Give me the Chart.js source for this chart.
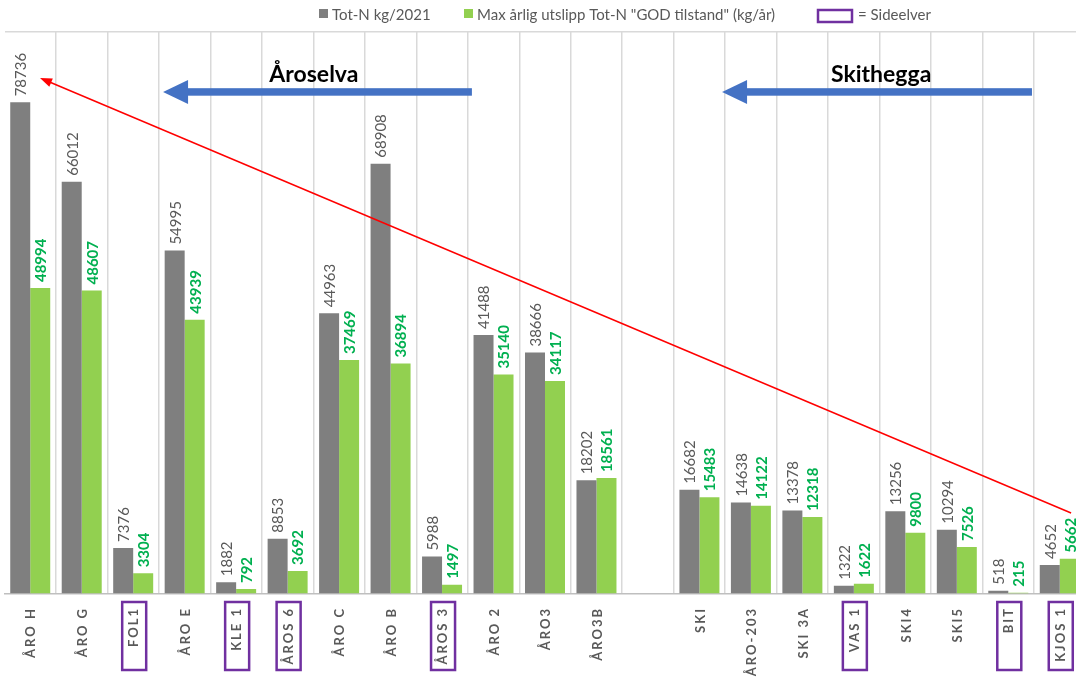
<!DOCTYPE html>
<html><head><meta charset="utf-8">
<script src="https://cdn.jsdelivr.net/npm/chart.js@4/dist/chart.umd.min.js"></script>
<style>
html,body{margin:0;padding:0;background:#fff;overflow:hidden;width:1076px;height:681px;}
#wrap{position:absolute;left:0;top:0;width:1086px;height:681px;}
</style></head><body>
<div id="wrap"><canvas id="c" width="1086" height="681"></canvas></div>
<script>
// ---- data ----
const categories = ['ÅRO H','ÅRO G','FOL1','ÅRO E','KLE 1','ÅROS 6','ÅRO C','ÅRO B','ÅROS 3','ÅRO 2','ÅRO3','ÅRO3B','','SKI','ÅRO-203','SKI 3A','VAS 1','SKI4','SKI5','BIT','KJOS 1'];
const totN2021 = [78736,66012,7376,54995,1882,8853,44963,68908,5988,41488,38666,18202,null,16682,14638,13378,1322,13256,10294,518,4652];
const maxGodTilstand = [48994,48607,3304,43939,792,3692,37469,36894,1497,35140,34117,18561,null,15483,14122,12318,1622,9800,7526,215,5662];
const sideelver = ['FOL1','KLE 1','ÅROS 6','ÅROS 3','VAS 1','BIT','KJOS 1'];
const seriesNames = ['Tot-N kg/2021','Max årlig utslipp Tot-N "GOD tilstand" (kg/år)'];
const sideelverLabel = '= Sideelver';
const riverNames = ['Åroselva','Skithegga'];
const yMax = 90000;

// annotation anchors in (category index, value) units
const riverArrows = [
  {name: riverNames[0], from: 8.58, to: 2.58, text: 5.51},
  {name: riverNames[1], from: 19.46, to: 13.44, text: 16.53}
];
const arrowValue = 80400, riverTextValue = 82000;
const trendLine = {x0: 20.22, y0: 12970, x1: 0.19, y1: 82640};

const GRAY = '#7f7f7f', GREEN = '#92d050', TXT = '#595959', GTXT = '#00b050', PURPLE = '#7030a0', BLUE = '#4472c4';
const FONT = 'Lato, "Open Sans", sans-serif';

const overlay = {
  id: 'overlay',
  afterDraw(chart) {
    const ctx = chart.ctx;
    const xs = chart.scales.x, ys = chart.scales.y;
    const bottom = chart.chartArea.bottom;

    // data labels
    const styles = [{c: TXT, f: '15px ' + FONT}, {c: GTXT, f: 'bold 15px ' + FONT}];
    chart.data.datasets.forEach((ds, di) => {
      const meta = chart.getDatasetMeta(di);
      meta.data.forEach((bar, i) => {
        const v = ds.data[i];
        if (v === null || v === undefined) return;
        ctx.save();
        ctx.translate(bar.x + 1, bar.y - 6);
        ctx.rotate(-Math.PI / 2);
        ctx.font = styles[di].f;
        ctx.fillStyle = styles[di].c;
        ctx.textAlign = 'left';
        ctx.textBaseline = 'middle';
        ctx.fillText(String(v), 0, 0);
        ctx.restore();
      });
    });

    // category labels + side-river boxes
    categories.forEach((lab, i) => {
      const x = xs.getPixelForValue(i);
      if (lab) {
        ctx.save();
        ctx.translate(x + 1, bottom + 13);
        ctx.rotate(-Math.PI / 2);
        ctx.font = 'bold 13px ' + FONT;
        ctx.letterSpacing = '2px';
        ctx.fillStyle = TXT;
        ctx.textAlign = 'right';
        ctx.textBaseline = 'middle';
        ctx.fillText(lab, 0, 0);
        ctx.restore();
      }
      if (sideelver.includes(lab)) {
        ctx.save();
        ctx.strokeStyle = PURPLE;
        ctx.lineWidth = 2.5;
        ctx.strokeRect(x - 11, bottom + 8, 24, 68);
        ctx.restore();
      }
    });

    // river arrows + names
    riverArrows.forEach(a => {
      const xr = xs.getPixelForValue(a.from), xt = xs.getPixelForValue(a.to);
      const y = ys.getPixelForValue(arrowValue);
      ctx.save();
      ctx.fillStyle = BLUE;
      ctx.fillRect(xt + 22, y - 3.75, xr - xt - 22, 7.5);
      ctx.beginPath();
      ctx.moveTo(xt, y);
      ctx.lineTo(xt + 25, y - 12);
      ctx.lineTo(xt + 25, y + 12);
      ctx.closePath();
      ctx.fill();
      ctx.font = 'bold 23px ' + FONT;
      ctx.fillStyle = '#000';
      ctx.textAlign = 'center';
      ctx.textBaseline = 'alphabetic';
      ctx.fillText(a.name, xs.getPixelForValue(a.text), ys.getPixelForValue(riverTextValue));
      ctx.restore();
    });

    // red trend arrow
    {
      const x0 = xs.getPixelForValue(trendLine.x0), y0 = ys.getPixelForValue(trendLine.y0);
      const x1 = xs.getPixelForValue(trendLine.x1), y1 = ys.getPixelForValue(trendLine.y1);
      const ang = Math.atan2(y1 - y0, x1 - x0);
      ctx.save();
      ctx.strokeStyle = '#ff0000';
      ctx.fillStyle = '#ff0000';
      ctx.lineWidth = 1.5;
      ctx.beginPath();
      ctx.moveTo(x0, y0);
      ctx.lineTo(x1 - 9 * Math.cos(ang), y1 - 9 * Math.sin(ang));
      ctx.stroke();
      ctx.translate(x1, y1);
      ctx.rotate(ang);
      ctx.beginPath();
      ctx.moveTo(0, 0);
      ctx.lineTo(-12, -4.5);
      ctx.lineTo(-12, 4.5);
      ctx.closePath();
      ctx.fill();
      ctx.restore();
    }

    // legend
    ctx.save();
    ctx.font = '15px ' + FONT;
    ctx.fillStyle = GRAY;
    ctx.fillRect(319, 9, 9, 9);
    ctx.fillStyle = GREEN;
    ctx.fillRect(464, 9, 9, 9);
    ctx.strokeStyle = PURPLE;
    ctx.lineWidth = 2.5;
    ctx.strokeRect(818, 10, 34, 12);
    ctx.fillStyle = TXT;
    ctx.textBaseline = 'middle';
    ctx.textAlign = 'left';
    ctx.fillText(seriesNames[0], 332, 15);
    ctx.fillText(seriesNames[1], 477, 15);
    ctx.fillText(sideelverLabel, 858, 15);
    ctx.restore();
  }
};

new Chart(document.getElementById('c'), {
  type: 'bar',
  data: {
    labels: categories,
    datasets: [
      {label: seriesNames[0], data: totN2021, backgroundColor: GRAY, categoryPercentage: 0.777, barPercentage: 1},
      {label: seriesNames[1], data: maxGodTilstand, backgroundColor: GREEN, categoryPercentage: 0.777, barPercentage: 1}
    ]
  },
  options: {
    responsive: false,
    animation: false,
    devicePixelRatio: 1,
    layout: {padding: {top: 32, bottom: 87, left: 4.5, right: 0.5}},
    plugins: {legend: {display: false}, tooltip: {enabled: false}},
    scales: {
      x: {
        grid: {offset: true, drawTicks: false, lineWidth: 1.5,
               color: c => (c.index === 0 ? 'rgba(0,0,0,0)' : '#d9d9d9')},
        border: {color: '#bfbfbf', width: 1.5},
        ticks: {display: false}
      },
      y: {
        min: 0, max: yMax,
        ticks: {display: false, stepSize: 10000},
        border: {display: false},
        grid: {drawTicks: false, lineWidth: 1.5,
               color: c => (c.tick && c.tick.value === yMax ? '#d9d9d9' : 'rgba(0,0,0,0)')}
      }
    }
  },
  plugins: [overlay]
});
</script>
</body></html>
